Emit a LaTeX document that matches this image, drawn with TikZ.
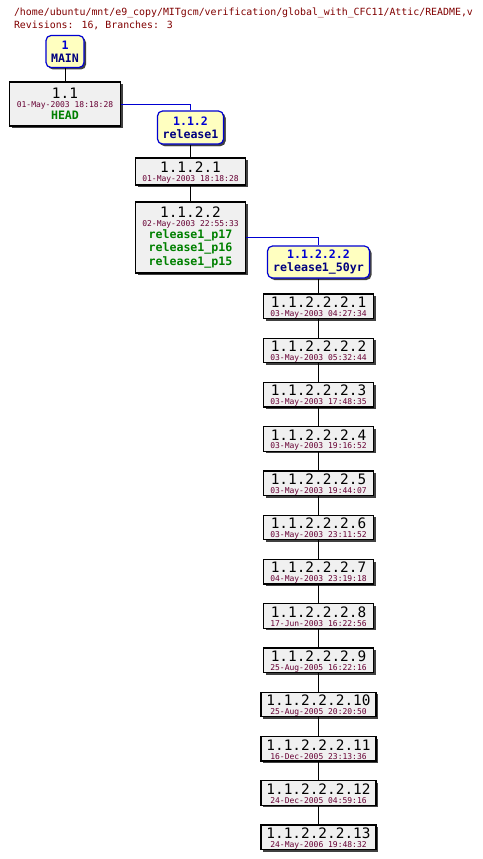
\documentclass[tikz,border=0pt]{standalone}
\usepackage{fontspec}
\usepackage{tikz}
\usetikzlibrary{shadows}
\newfontfamily\rcsfont{DejaVu Sans Mono}
\definecolor{rcsred}{RGB}{128,0,0}
\definecolor{datered}{RGB}{102,0,51}
\definecolor{tagblue}{RGB}{0,0,210}
\definecolor{tagnavy}{RGB}{0,0,128}
\definecolor{taggreen}{RGB}{0,128,0}
\definecolor{tagfill}{RGB}{255,255,192}
\definecolor{revfill}{RGB}{240,240,240}

\newcommand{\revnum}[1]{{\fontsize{14.4}{14.4}\selectfont #1}}
\newcommand{\revdate}[1]{{\fontsize{8}{8}\selectfont\color{datered}#1}}
\newcommand{\tagname}[1]{{\fontsize{11.6}{11.6}\selectfont\bfseries\color{taggreen}#1}}

\begin{document}
\begin{tikzpicture}[x=1pt, y=-1pt,
    every node/.style={font=\rcsfont},
    revbox/.style={draw, line width=1.2pt, fill=revfill, align=center, inner sep=0pt,
      drop shadow={shadow xshift=2pt, shadow yshift=-2pt, fill=black!75, opacity=1},
      font=\rcsfont\fontsize{8}{8.8}\selectfont},
    tagbox/.style={revbox, draw=tagblue, fill=tagfill, rounded corners=5pt,
      font=\rcsfont\fontsize{11.6}{13.3}\selectfont\bfseries},
    link/.style={line width=0.9pt},
    branch/.style={link, draw=tagblue}]
  \useasboundingbox (0,0) rectangle (482,859);

  \node[anchor=base west, text=rcsred, font=\rcsfont\fontsize{9.9}{12}\selectfont] (path) at (10.5,15.7)
    {/home/ubuntu/mnt/e9\_copy/MITgcm/verification/global\_with\_CFC11/Attic/README,v};
  \node[anchor=base west, text=rcsred, font=\rcsfont\fontsize{9.9}{12}\selectfont] (stats) at (10.5,28.3)
    {Revisions: 16, Branches: 3};

  \node[tagbox, minimum width=38pt, minimum height=32pt] (main) at (65,51.5)
    {\textcolor{tagblue}{1}\\\textcolor{tagnavy}{MAIN}};
  \node[revbox, minimum width=111pt, minimum height=44pt] (rev11) at (65,104)
    {\revnum{1.1}\\\revdate{01-May-2003 18:18:28}\\[1pt]\tagname{HEAD}};
  \node[revbox, minimum width=66pt, minimum height=33pt, tagbox] (rel1) at (190.5,127.5)
    {\textcolor{tagblue}{1.1.2}\\\textcolor{tagnavy}{release1}};
  \node[revbox, minimum width=110pt, minimum height=27pt] (r1121) at (190.5,171.5)
    {\rule{0pt}{12.8pt}\revnum{1.1.2.1}\\\revdate{01-May-2003 18:18:28}};
  \node[revbox, minimum width=110pt, minimum height=71pt] (r1122) at (190.5,237.5)
    {\revnum{1.1.2.2}\\\revdate{02-May-2003 22:55:33}\\[0.2pt]\tagname{release1\_p17}\\[1pt]%
     \tagname{release1\_p16}\\[1pt]\tagname{release1\_p15}};
  \node[tagbox, minimum width=102pt, minimum height=32pt] (rel50) at (318.5,262)
    {\textcolor{tagblue}{1.1.2.2.2}\\\textcolor{tagnavy}{release1\_50yr}};

  \foreach \d/\w [count=\i] in {03-May-2003 04:27:34/110, 03-May-2003 05:32:44/110,
      03-May-2003 17:48:35/110, 03-May-2003 19:16:52/110, 03-May-2003 19:44:07/110,
      03-May-2003 23:11:52/110, 04-May-2003 23:19:18/110, 17-Jun-2003 16:22:56/110,
      25-Aug-2005 16:22:16/110, 25-Aug-2005 20:20:50/115, 16-Dec-2005 23:13:36/115,
      24-Dec-2005 04:59:16/115, 24-May-2006 19:48:32/115}
    \node[revbox, minimum width=\w pt, minimum height=24.5pt] (r\i) at (318.5,{306.25+44.25*(\i-1)})
      {\rule{0pt}{12.8pt}\revnum{1.1.2.2.2.\i}\\\revdate{\d}};

  \draw[link] (main) -- (rev11);
  \draw[branch] (rev11.east) -| (rel1.north);
  \draw[link] (rel1) -- (r1121);
  \draw[link] (r1121) -- (r1122);
  \draw[branch] (r1122.east) -| (rel50.north);
  \draw[link] (rel50) -- (r1);
  \foreach \i [evaluate=\i as \j using int(\i+1)] in {1,...,12}
    \draw[link] (r\i) -- (r\j);
\end{tikzpicture}
\end{document}
